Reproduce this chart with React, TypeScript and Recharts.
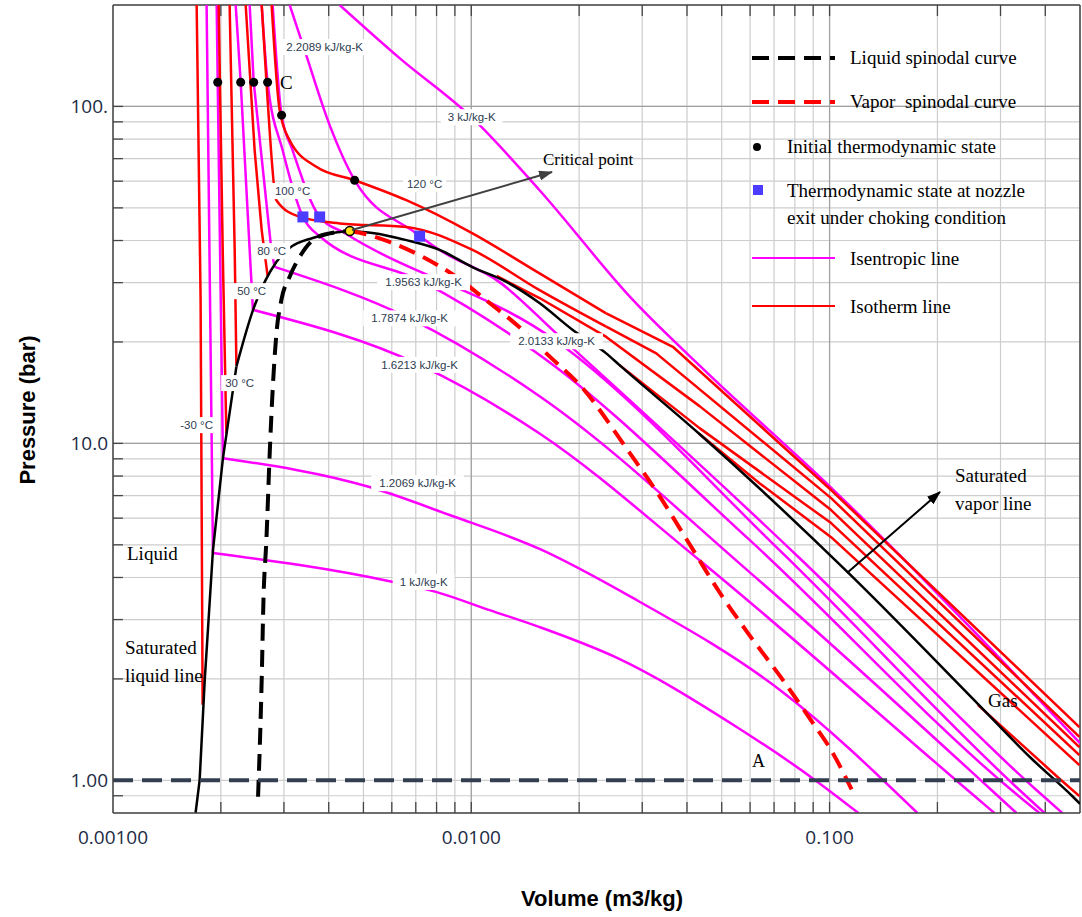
import React from "react";
import {
  ComposedChart,
  Line,
  Scatter,
  XAxis,
  YAxis,
  CartesianGrid,
  ReferenceLine,
} from "recharts";

// volume v (m3/kg), pressure p (bar)
type Pt = { v: number; p: number };
const pts = (a: number[][]): Pt[] => a.map(([v, p]) => ({ v, p }));

const xTicks = [
  0.001, 0.002, 0.003, 0.004, 0.005, 0.006, 0.007, 0.008, 0.009,
  0.01, 0.02, 0.03, 0.04, 0.05, 0.06, 0.07, 0.08, 0.09,
  0.1, 0.2, 0.3, 0.4, 0.5,
];
const xTickLabels: Record<string, string> = { "0.001": "0.00100", "0.01": "0.0100", "0.1": "0.100" };
const yTicks = [
  0.8, 0.9, 1, 2, 3, 4, 5, 6, 7, 8, 9, 10, 20, 30, 40, 50, 60, 70, 80, 90, 100, 200,
];
const yTickLabels: Record<string, string> = { "1": "1.00", "10": "10.0", "100": "100." };

// saturation dome
const satLiquidLow = pts([
  [0.0017, 0.8], [0.001745, 1.0], [0.001803, 1.98], [0.001862, 3.4], [0.001901, 4.82],
  [0.002027, 9.04], [0.00221, 16.9],
]);
const satLiquidHigh = pts([
  [0.00221, 16.9], [0.00246, 24.9], [0.00286, 34.6], [0.00311, 38.0],
  [0.00361, 40.7], [0.0041, 42.1], [0.00458, 42.7],
]);
const satVapor = pts([
  [0.00458, 42.7], [0.0053, 42.1], [0.00659, 40.1], [0.00816, 37.5], [0.0101, 33.3],
  [0.0125, 30.2], [0.0155, 26.1], [0.0192, 21.7], [0.0238, 18.5], [0.02588, 17.1],
  [0.04318, 10.7], [0.1125, 4.14], [0.2593, 1.687], [0.3659, 1.161], [0.4779, 0.894], [0.5, 0.852],
]);
const liquidSpinodal = pts([
  [0.00254, 0.894], [0.0026, 1.98], [0.00263, 3.43], [0.00268, 5.17], [0.00274, 9.55],
  [0.00279, 14.4], [0.00286, 21.3], [0.00295, 26.6], [0.00311, 31.2], [0.00332, 35.8],
  [0.00361, 40.1], [0.00402, 42.0], [0.00458, 42.7],
]);
const vaporSpinodal = pts([
  [0.00458, 42.7], [0.00488, 42.2], [0.00592, 39.6], [0.00731, 35.8], [0.00908, 31.2],
  [0.01125, 26.1], [0.0139, 21.7], [0.0162, 18.5], [0.02026, 14.75], [0.02767, 9.37],
  [0.03306, 7.14], [0.0404, 5.08], [0.04935, 3.61], [0.05897, 2.75], [0.0737, 2.0],
  [0.0881, 1.524], [0.1029, 1.188], [0.1152, 0.94],
]);

// isotherms
const isoM30Liq = pts([[0.001712, 200], [0.001756, 26.6], [0.001779, 1.675]]);
const isoM30Vap = pts([[0.2593, 1.675], [0.4375, 1.013], [0.498, 0.898]]);
const iso30Liq = pts([[0.001972, 200], [0.002024, 37.5], [0.002072, 10.7]]);
const iso30Vap = pts([[0.04318, 10.7], [0.06374, 7.62], [0.101, 5.27], [0.498, 1.11]]);
const iso50Liq = pts([[0.002116, 200], [0.002186, 37.5], [0.00221, 17.1]]);
const iso50Vap = pts([[0.02588, 17.1], [0.04336, 11.1], [0.101, 5.8], [0.498, 1.189]]);
const iso80Liq = pts([[0.002346, 200], [0.002485, 74.1], [0.0026, 42.95], [0.002701, 31.4]]);
const iso80Vap = pts([[0.01177, 31.4], [0.01551, 27.0], [0.02381, 20.7], [0.04336, 12.9], [0.101, 6.34], [0.498, 1.255]]);
const iso100Head = pts([
  [0.0026, 200], [0.002701, 104.4], [0.002857, 52.7], [0.003319, 47.0], [0.004291, 44.97],
  [0.006587, 43.9], [0.01008, 37.5], [0.01551, 28.5], [0.02381, 22.2],
]);
const iso100Tail = pts([[0.02381, 22.2], [0.03283, 18.5], [0.101, 6.88], [0.498, 1.345]]);
const iso120Head = pts([
  [0.002772, 200], [0.002918, 97.5], [0.003112, 79.4], [0.003694, 66.2], [0.004725, 60.4],
  [0.006587, 52.7], [0.01008, 42.0], [0.01551, 31.95], [0.02381, 24.3],
]);
const iso120Tail = pts([[0.02381, 24.3], [0.03652, 19.35], [0.101, 7.27], [0.498, 1.439]]);

// isentropes (liquid branch + two-phase branch where there is a sharp turn)
const s1000Liq = pts([[0.001825, 200], [0.001901, 4.73]]);
const s1000 = pts([
  [0.001901, 4.73], [0.005916, 3.9], [0.008003, 3.62], [0.01125, 3.2],
  [0.01551, 2.85], [0.02527, 2.32], [0.05394, 1.46], [0.09019, 1.01], [0.1204, 0.8],
]);
const s1207Liq = pts([[0.001947, 200], [0.00196, 118], [0.002027, 9.04]]);
const s1207 = pts([
  [0.002027, 9.04], [0.005202, 7.42], [0.0087, 6.13],
  [0.01551, 4.86], [0.02767, 3.52], [0.0739, 1.83], [0.1759, 0.8],
]);
const s1621Liq = pts([[0.0022, 200], [0.002272, 118], [0.002407, 37.5], [0.002458, 24.9]]);
const s1621 = pts([
  [0.002458, 24.9], [0.007174, 17.1], [0.01551, 10.7], [0.04336, 4.5], [0.2426, 0.936], [0.2884, 0.8],
]);
const s1787Liq = pts([[0.002407, 200], [0.00247, 118], [0.002767, 37.5], [0.002826, 33.4]]);
const s1787 = pts([
  [0.002826, 33.4], [0.006727, 23.5], [0.01551, 13.8], [0.05978, 4.15], [0.2829, 0.936], [0.3323, 0.8],
]);
const s1956 = pts([
  [0.0026, 200], [0.002701, 118], [0.002975, 74.1], [0.003389, 47.0], [0.003774, 41.2],
  [0.007361, 30.1], [0.01551, 18.3], [0.05978, 5.17], [0.3218, 0.936], [0.3852, 0.8],
]);
const s2013 = pts([
  [0.00279, 200], [0.002955, 94.2], [0.003172, 74.1], [0.003774, 47.0], [0.004431, 42.1],
  [0.0173, 20.1], [0.07248, 4.82], [0.3388, 0.936], [0.3978, 0.8],
]);
const s2209 = pts([
  [0.003112, 200], [0.003426, 146.9], [0.004024, 88.0], [0.004725, 60.4], [0.007024, 42.0],
  [0.008155, 37.5], [0.01199, 30.1], [0.01727, 21.2], [0.08241, 4.57], [0.3778, 0.936], [0.4465, 0.8],
]);
const s3000 = pts([
  [0.004291, 200], [0.006308, 139.1], [0.01008, 92.3], [0.01551, 56.4], [0.02829, 26.6],
  [0.04526, 16.3], [0.1006, 7.42], [0.5, 1.29],
]);

// states
const initialStates = pts([[0.00196, 118], [0.002272, 118], [0.00247, 118], [0.002701, 118], [0.002955, 94.2], [0.004725, 60.4]]);
const chokedStates = pts([[0.003389, 47.0], [0.003774, 47.0], [0.007174, 41.2]]);
const criticalPoint = pts([[0.00458, 42.7]]);
const atmLine = pts([[0.001, 1], [0.5, 1]]);

// curve labels
const isothermLabels = [
  { v: 0.001712, p: 11.33, text: "-30 °C" },
  { v: 0.002257, p: 15.1, text: "30 °C" },
  { v: 0.002438, p: 28.3, text: "50 °C" },
  { v: 0.002772, p: 37.2, text: "80 °C" },
  { v: 0.003172, p: 56.1, text: "100 °C" },
  { v: 0.007408, p: 58.8, text: "120 °C" },
];
const isentropeLabels = [
  { v: 0.003896, p: 150, text: "2.2089 kJ/kg-K" },
  { v: 0.01002, p: 92.9, text: "3 kJ/kg-K" },
  { v: 0.007361, p: 30.1, text: "1.9563 kJ/kg-K" },
  { v: 0.006727, p: 23.5, text: "1.7874 kJ/kg-K" },
  { v: 0.007174, p: 17.1, text: "1.6213 kJ/kg-K" },
  { v: 0.0173, p: 20.1, text: "2.0133 kJ/kg-K" },
  { v: 0.007084, p: 7.62, text: "1.2069 kJ/kg-K" },
  { v: 0.007361, p: 3.88, text: "1 kJ/kg-K" },
];

const PINK = "#ff00ff";
const RED = "#ff0000";
const W = 1082;
const H = 917;

const curve = (
  key: string,
  data: Pt[],
  color: string,
  width: number,
  dash?: string,
  type: "linear" | "monotoneX" = "monotoneX"
) => (
  <Line
    key={key}
    data={data}
    dataKey="p"
    type={type}
    stroke={color}
    strokeWidth={width}
    strokeDasharray={dash}
    strokeLinejoin="round"
    dot={false}
    activeDot={false}
    isAnimationActive={false}
    legendType="none"
  />
);

const CurveLabel = (props: any) => {
  const { cx, cy, payload } = props;
  const w = payload.text.length * 6.2 + 6;
  return (
    <g>
      <rect x={cx - w / 2} y={cy - 8} width={w} height={16} fill="#fff" />
      <text x={cx} y={cy + 4} textAnchor="middle" fontSize={11.5} fontFamily="Liberation Sans, Arial" fill="#2e3c50">
        {payload.text}
      </text>
    </g>
  );
};

const Dot = (props: any) => <circle cx={props.cx} cy={props.cy} r={4.5} fill="#000" />;
const Square = (props: any) => <rect x={props.cx - 5.5} y={props.cy - 5.5} width={11} height={11} fill="#4b3cff" />;
const Crit = (props: any) => <circle cx={props.cx} cy={props.cy} r={4.5} fill="#ffe21a" stroke="#000" strokeWidth={1.5} />;

const fmtX = (v: number) => xTickLabels[String(v)] ?? "";
const fmtY = (v: number) => yTickLabels[String(v)] ?? "";

const serif = "Liberation Serif, Times New Roman, serif";

export default function App() {
  return (
    <div style={{ position: "absolute", left: 0, top: 0, width: W, height: H, background: "#fff" }}>
      <ComposedChart width={W} height={H} margin={{ top: 5, right: 2, left: 0, bottom: 0 }}>
        <CartesianGrid stroke="#cdcdcd" strokeWidth={1.2} />
        <XAxis
          type="number"
          dataKey="v"
          scale="log"
          domain={[0.001, 0.5]}
          allowDataOverflow
          ticks={xTicks}
          interval={0}
          tickFormatter={fmtX}
          tickLine={false}
          tickSize={0}
          tickMargin={18}
          height={104}
          axisLine={{ stroke: "#454545", strokeWidth: 1.5 }}
          tick={{ fill: "#1d2b45", fontSize: 19, fontFamily: "Open Sans" }}
        />
        <YAxis
          type="number"
          dataKey="p"
          scale="log"
          domain={[0.8, 200]}
          allowDataOverflow
          ticks={yTicks}
          interval={0}
          tickFormatter={fmtY}
          tickLine={false}
          tickSize={0}
          tickMargin={5}
          width={113}
          axisLine={{ stroke: "#454545", strokeWidth: 1.5 }}
          tick={{ fill: "#1d2b45", fontSize: 19, fontFamily: "Open Sans" }}
        />
        {[0.01, 0.1].map((x) => (
          <ReferenceLine key={"gx" + x} x={x} stroke="#a0a0a0" strokeWidth={1.2} />
        ))}
        {[10, 100].map((y) => (
          <ReferenceLine key={"gy" + y} y={y} stroke="#a0a0a0" strokeWidth={1.2} />
        ))}
        {xTicks.slice(1, -1).map((x) => (
          <ReferenceLine key={"tb" + x} segment={[{ x, y: 0.8 }, { x, y: 0.8625 }]} stroke="#454545" strokeWidth={1.3} />
        ))}
        {xTicks.slice(1, -1).map((x) => (
          <ReferenceLine key={"tt" + x} segment={[{ x, y: 200 }, { x, y: 185.5 }]} stroke="#454545" strokeWidth={1.3} />
        ))}
        {yTicks.slice(1, -1).map((y) => (
          <ReferenceLine key={"tl" + y} segment={[{ x: 0.001, y }, { x: 0.001066, y }]} stroke="#454545" strokeWidth={1.3} />
        ))}
        <ReferenceLine y={200} stroke="#454545" strokeWidth={1.5} />
        <ReferenceLine x={0.5} stroke="#454545" strokeWidth={1.5} />

        {curve("s1000Liq", s1000Liq, PINK, 2.5, undefined, "linear")}
        {curve("s1000", s1000, PINK, 2.5)}
        {curve("s1207Liq", s1207Liq, PINK, 2.5, undefined, "linear")}
        {curve("s1207", s1207, PINK, 2.5)}
        {curve("s1621Liq", s1621Liq, PINK, 2.5, undefined, "linear")}
        {curve("s1621", s1621, PINK, 2.5)}
        {curve("s1787Liq", s1787Liq, PINK, 2.5, undefined, "linear")}
        {curve("s1787", s1787, PINK, 2.5)}
        {curve("s1956", s1956, PINK, 2.5)}
        {curve("s2013", s2013, PINK, 2.5)}
        {curve("s2209", s2209, PINK, 2.5)}
        {curve("s3000", s3000, PINK, 2.5)}

        {curve("isoM30Liq", isoM30Liq, RED, 2.5, undefined, "linear")}
        {curve("isoM30Vap", isoM30Vap, RED, 2.5, undefined, "linear")}
        {curve("iso30Liq", iso30Liq, RED, 2.5, undefined, "linear")}
        {curve("iso30Vap", iso30Vap, RED, 2.5, undefined, "linear")}
        {curve("iso50Liq", iso50Liq, RED, 2.5, undefined, "linear")}
        {curve("iso50Vap", iso50Vap, RED, 2.5, undefined, "linear")}
        {curve("iso80Liq", iso80Liq, RED, 2.5, undefined, "linear")}
        {curve("iso80Vap", iso80Vap, RED, 2.5, undefined, "linear")}
        {curve("iso100Head", iso100Head, RED, 2.5)}
        {curve("iso100Tail", iso100Tail, RED, 2.5, undefined, "linear")}
        {curve("iso120Head", iso120Head, RED, 2.5)}
        {curve("iso120Tail", iso120Tail, RED, 2.5, undefined, "linear")}

        {curve("satLiquidLow", satLiquidLow, "#000", 2.5, undefined, "linear")}
        {curve("satLiquidHigh", satLiquidHigh, "#000", 2.5)}
        {curve("satVapor", satVapor, "#000", 2.5)}
        {curve("liquidSpinodal", liquidSpinodal, "#000", 4, "17 9")}
        {curve("vaporSpinodal", vaporSpinodal, RED, 4, "17 9")}
        {curve("atmLine", atmLine, "#333f50", 4, "20 9", "linear")}

        <Scatter data={isothermLabels} dataKey="p" shape={CurveLabel} isAnimationActive={false} legendType="none" />
        <Scatter data={isentropeLabels} dataKey="p" shape={CurveLabel} isAnimationActive={false} legendType="none" />
        <Scatter data={initialStates} dataKey="p" shape={Dot} isAnimationActive={false} legendType="none" />
        <Scatter data={chokedStates} dataKey="p" shape={Square} isAnimationActive={false} legendType="none" />
        <Scatter data={criticalPoint} dataKey="p" shape={Crit} isAnimationActive={false} legendType="none" />
      </ComposedChart>

      <svg width={W} height={H} style={{ position: "absolute", left: 0, top: 0, pointerEvents: "none" }}>
        <defs>
          <marker id="ahGray" markerUnits="userSpaceOnUse" markerWidth={14} markerHeight={10} refX={13} refY={5} orient="auto">
            <path d="M0,0 L14,5 L0,10 z" fill="#404040" />
          </marker>
          <marker id="ahBlack" markerUnits="userSpaceOnUse" markerWidth={14} markerHeight={10} refX={13} refY={5} orient="auto">
            <path d="M0,0 L14,5 L0,10 z" fill="#000" />
          </marker>
        </defs>

        {/* axis titles */}
        <text x={602} y={906} textAnchor="middle" fontSize={22} fontWeight="bold" fontFamily="Liberation Sans, Arial">
          Volume (m3/kg)
        </text>
        <text x={35} y={410} textAnchor="middle" fontSize={22} fontWeight="bold" fontFamily="Liberation Sans, Arial" transform="rotate(-90 35 410)">
          Pressure (bar)
        </text>

        {/* annotations */}
        <line x1={352} y1={230} x2={552} y2={172} stroke="#404040" strokeWidth={2} markerEnd="url(#ahGray)" />
        <text x={543} y={165} fontSize={17} fontFamily={serif}>Critical point</text>
        <line x1={847} y1={573} x2={940} y2={492} stroke="#000" strokeWidth={2} markerEnd="url(#ahBlack)" />
        <text x={955} y={482} fontSize={19} fontFamily={serif}>Saturated</text>
        <text x={955} y={510} fontSize={19} fontFamily={serif}>vapor line</text>
        <text x={280} y={89} fontSize={19} fontFamily={serif}>C</text>
        <text x={127} y={560} fontSize={19} fontFamily={serif}>Liquid</text>
        <text x={125} y={654} fontSize={19} fontFamily={serif}>Saturated</text>
        <text x={125} y={682} fontSize={19} fontFamily={serif}>liquid line</text>
        <text x={988} y={707} fontSize={19} fontFamily={serif}>Gas</text>
        <text x={752} y={767} fontSize={18} fontFamily={serif}>A</text>

        {/* legend */}
        <line x1={752} y1={58} x2={835} y2={58} stroke="#000" strokeWidth={4} strokeDasharray="17 9" />
        <text x={850} y={64} fontSize={19} fontFamily={serif}>Liquid spinodal curve</text>
        <line x1={752} y1={102} x2={835} y2={102} stroke={RED} strokeWidth={4} strokeDasharray="17 9" />
        <text x={850} y={108} fontSize={19} fontFamily={serif} xmlSpace="preserve">Vapor  spinodal curve</text>
        <circle cx={757} cy={147} r={4} fill="#000" />
        <text x={787} y={153} fontSize={19} fontFamily={serif}>Initial thermodynamic state</text>
        <rect x={753} y={185} width={10} height={10} fill="#4b3cff" />
        <text x={787} y={197} fontSize={19} fontFamily={serif}>Thermodynamic state at nozzle</text>
        <text x={787} y={224} fontSize={19} fontFamily={serif}>exit under choking condition</text>
        <line x1={752} y1={258} x2={835} y2={258} stroke={PINK} strokeWidth={2} />
        <text x={850} y={265} fontSize={19} fontFamily={serif}>Isentropic line</text>
        <line x1={752} y1={306} x2={835} y2={306} stroke={RED} strokeWidth={2} />
        <text x={850} y={313} fontSize={19} fontFamily={serif}>Isotherm line</text>
      </svg>
    </div>
  );
}
